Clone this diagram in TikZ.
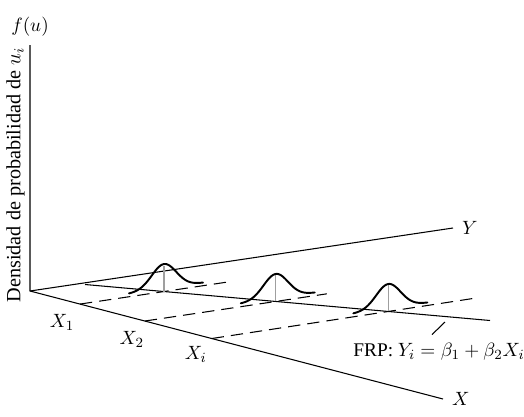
\documentclass[tikz,border=0pt]{standalone}
\usepackage{fontspec}
\setmainfont{Liberation Serif}
\usetikzlibrary{positioning, calc}

\begin{document}
\begin{tikzpicture}[
    x=0.02cm, y=-0.02cm,
    axis/.style={draw=black, line width=0.6pt},
    guide/.style={draw=black, line width=0.6pt, dash pattern=on 7pt off 4pt},
    prf/.style={draw=black, line width=0.6pt},
    bell/.style={draw=black, line width=1.1pt, line cap=round},
    meanline/.style={draw=gray!75, line width=0.6pt},
    lbl/.style={font=\fontsize{11}{13}\selectfont, inner sep=2pt}
]
    \useasboundingbox (0,0) rectangle (524,416);

    % Axes: f(u) upwards, X towards the viewer, Y to the back
    \coordinate (O) at (30,291);
    \coordinate (ztop) at (30,45);
    \coordinate (xend) at (443,399);
    \coordinate (yend) at (453,228);
    \draw [axis] (ztop) -- (O) -- (xend);
    \draw [axis] (O) -- (yend);

    % Axis labels
    \node (flab) [lbl, above=3pt of ztop] {$f(u)$};
    \node (xlab) [lbl, right=3pt of xend] {$X$};
    \node (ylab) [lbl, right=3pt of yend] {$Y$};
    \node (dens) [lbl, font=\fontsize{11.5}{14}\selectfont, rotate=90] at (15.5,175) {Densidad de probabilidad de $u_i$};

    % Values X1, X2, Xi on the X axis
    \coordinate (X1) at ($(O)!0.121!(xend)$);
    \coordinate (X2) at ($(O)!0.278!(xend)$);
    \coordinate (Xi) at ($(O)!0.440!(xend)$);
    \node (x1lab) [lbl] at ($(X1)+(-18,18)$) {$X_1$};
    \node (x2lab) [lbl] at ($(X2)+(-13,18)$) {$X_2$};
    \node (xilab) [lbl] at ($(Xi)+(-16,16)$) {$X_i$};

    % Dashed lines parallel to the Y axis
    \coordinate (D1) at ($(X1)+(150,-22.4)$);
    \coordinate (D2) at ($(X2)+(182,-27.2)$);
    \coordinate (Di) at ($(Xi)+(261,-40)$);
    \draw [guide] (X1) -- (D1);
    \draw [guide] (X2) -- (D2);
    \draw [guide] (Xi) -- (Di);

    % Population regression line
    \coordinate (S) at (85,284.5);
    \coordinate (E) at (490,320.5);
    \draw [prf] (S) -- (E);

    % Conditional means on the regression line
    \coordinate (M1) at (intersection of X1--D1 and S--E);
    \coordinate (M2) at (intersection of X2--D2 and S--E);
    \coordinate (M3) at (intersection of Xi--Di and S--E);

    % Densities of u around each mean
    \foreach \m in {M1,M2,M3} {
        \draw [meanline] (\m) -- ++(0,-26);
        \draw [bell, shift={(\m)}] plot[domain=-35:39, samples=70, smooth]
            (\x, {-0.15*\x - 3 - 24.5*exp(-(\x*\x)/300)});
    }

    % FRP label with its pointer
    \coordinate (ptr) at (445,322);
    \node (frp) [lbl] at (439,352) {FRP: $Y_i = \beta_1 + \beta_2 X_i$};
    \draw [prf] ([xshift=-0.14cm, yshift=0.1cm]frp.north) -- (ptr);
\end{tikzpicture}
\end{document}
